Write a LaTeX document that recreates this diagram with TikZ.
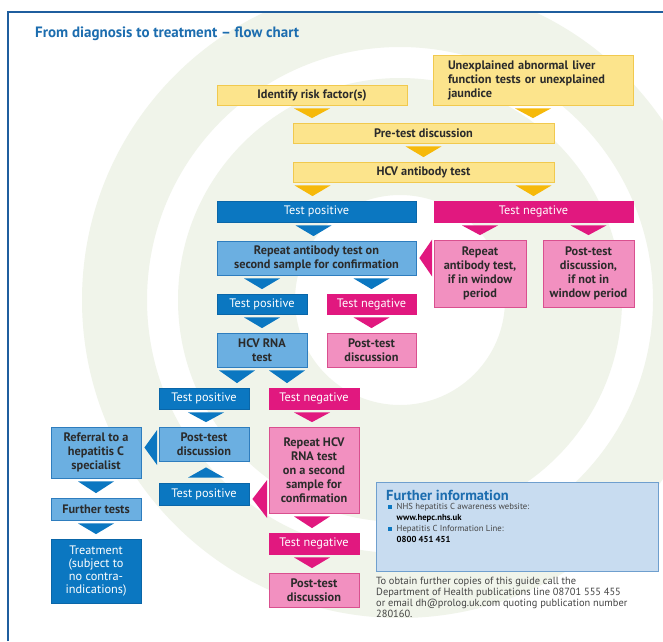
\documentclass[tikz,border=0pt]{standalone}
\usepackage{fontspec}
\setmainfont{PT Sans}
\usetikzlibrary{calc}
\definecolor{yfill}{HTML}{FCE48C}
\definecolor{yline}{HTML}{F1C94E}
\definecolor{ytri}{HTML}{F6B90A}
\definecolor{dblue}{HTML}{0B77C1}
\definecolor{dbline}{HTML}{0A66A8}
\definecolor{lblue}{HTML}{6BAFE1}
\definecolor{lbline}{HTML}{2E7DBE}
\definecolor{mag}{HTML}{E1187F}
\definecolor{pink}{HTML}{F290C0}
\definecolor{pkline}{HTML}{D9508F}
\definecolor{infofill}{HTML}{C8DCF0}
\definecolor{infoline}{HTML}{6F9FCE}
\definecolor{titleblue}{HTML}{1C6DAF}
\definecolor{frameblue}{HTML}{1F5E9E}
\definecolor{bgring}{HTML}{F0F4EA}
\definecolor{darktext}{HTML}{2B2B2B}
\definecolor{greytext}{HTML}{444444}
% down-pointing triangle between two named nodes
\newcommand\dtri[4]{\fill[#1] let \p1=(#2), \p2=(#3.south), \p3=(#4.north) in
  (\x1-18pt,\y2-3pt) -- (\x1+18pt,\y2-3pt) -- (\x1,\y3+4.5pt) -- cycle;}
% up-pointing triangle: from lower node #3 to upper node #4
\newcommand\utri[4]{\fill[#1] let \p1=(#2), \p2=(#3.north), \p3=(#4.south) in
  (\x1-18pt,\y2+5pt) -- (\x1+18pt,\y2+5pt) -- (\x1,\y3-6pt) -- cycle;}
% left-pointing triangle: from right node #4 to left node #3, y from #2, half height #5
\newcommand\ltri[5]{\fill[#1] let \p1=(#2), \p2=(#3.east), \p3=(#4.west) in
  (\x3-1.5pt,\y1+#5pt) -- (\x3-1.5pt,\y1-#5pt) -- (\x2+3pt,\y1) -- cycle;}
\begin{document}
\begin{tikzpicture}[x=1pt,y=-1pt,
  wh/.style 2 args={minimum width=#1, minimum height=#2},
  box/.style={draw, line width=0.8pt, inner sep=1pt, align=center, anchor=center,
    font=\fontsize{12.3}{14}\selectfont},
  ybox/.style={box, fill=yfill, draw=yline, text=darktext, font=\fontsize{12.3}{14}\selectfont\bfseries},
  dbox/.style={box, fill=dblue, draw=dbline, text=white},
  lbox/.style={box, fill=lblue, draw=lbline, text=darktext, font=\fontsize{12.3}{14}\selectfont\bfseries},
  mbox/.style={box, fill=mag, draw=mag, text=white},
  pbox/.style={box, fill=pink, draw=pkline, text=darktext, font=\fontsize{12.3}{14}\selectfont\bfseries},
  ytr/.style={ytri}, btr/.style={dblue}, mtr/.style={mag}]
\useasboundingbox (0,0) rectangle (663,641);
\fill[white] (0,0) rectangle (663,641);
% background logo rings
\begin{scope}
  \clip (8,12) rectangle (663,641);
  \fill[bgring, even odd rule] (400,300) circle (318pt) (400,300) circle (253pt);
  \fill[bgring, even odd rule] (400,300) circle (222pt) (400,300) circle (105pt);
\end{scope}
% frame
\draw[frameblue, line width=1.4pt] (8,641) -- (8,12) -- (663,12);
% title
\node[anchor=base west, inner sep=0pt, text=titleblue, font=\fontsize{15}{17}\selectfont\bfseries] (title) at (35,37.5) {From diagnosis to treatment – flow chart};

% nodes
\node[ybox, wh={200}{50}, align=left, text width=170pt, inner xsep=15pt] (unexpl) at (533,80) {Unexplained abnormal liver\\function tests or unexplained\\jaundice};
\node[ybox, wh={190}{20}] (risk) at (312,95) {Identify risk factor(s)};
\node[ybox, wh={261}{20}] (pre) at (423.5,133) {Pre-test discussion};
\node[ybox, wh={261}{20}] (hcv) at (423.5,172) {HCV antibody test};
\node[dbox, wh={199}{21}] (tpos1) at (316.5,211.5) {Test positive};
\node[mbox, wh={199}{21}] (tneg1) at (533.5,211.5) {Test negative};
\node[lbox, wh={199}{34}] (rep1) at (316.5,258) {Repeat antibody test on\\second sample for confirmation};
\node[pbox, wh={92}{67}] (repwin) at (480,273.5) {Repeat\\antibody test,\\if in window\\period};
\node[pbox, wh={91}{67}] (postwin) at (588.5,273.5) {Post-test\\discussion,\\if not in\\window period};
\node[dbox, wh={90}{20}] (tpos2) at (262,304) {Test positive};
\node[mbox, wh={89}{20}] (tneg2) at (371.5,304) {Test negative};
\node[lbox, wh={90}{34}] (rna) at (262,350) {HCV RNA\\test};
\node[pbox, wh={89}{34}] (post2) at (371.5,350) {Post-test\\discussion};
\node[dbox, wh={90}{21}] (tpos3) at (204,398.5) {Test positive};
\node[mbox, wh={90}{21}] (tneg3) at (314,398.5) {Test negative};
\node[lbox, wh={90}{51}] (referral) at (96,452.5) {Referral to a\\hepatitis C\\specialist};
\node[lbox, wh={90}{34}] (post3) at (204,444) {Post-test\\discussion};
\node[dbox, wh={90}{22}] (tpos4) at (204,494) {Test positive};
\node[pbox, wh={90}{86}] (reprna) at (314,470) {Repeat HCV\\RNA test\\on a second\\sample for\\confirmation};
\node[lbox, wh={90}{22}] (further) at (96,509) {Further tests};
\node[dbox, wh={90}{64}, font=\fontsize{12.3}{13}\selectfont] (treat) at (96,571) {Treatment\\(subject to\\no contra-\\indications)};
\node[mbox, wh={90}{21}] (tneg4) at (314,543.5) {Test negative};
\node[pbox, wh={90}{34}] (post4) at (314,590) {Post-test\\discussion};

% connectors (triangles)
\dtri{ytr}{risk.south}{risk}{pre}
\dtri{ytr}{unexpl.south}{unexpl}{pre}
\dtri{ytr}{pre.south}{pre}{hcv}
\dtri{ytr}{$(tpos1.north)+(-4,0)$}{hcv}{tpos1}
\dtri{ytr}{tneg1.north}{hcv}{tneg1}
\dtri{btr}{$(tpos1.south)+(-3,0)$}{tpos1}{rep1}
\dtri{mtr}{repwin.north}{tneg1}{repwin}
\dtri{mtr}{postwin.north}{tneg1}{postwin}
\ltri{mtr}{rep1.east}{rep1}{repwin}{18.5}
\dtri{btr}{tpos2.north}{rep1}{tpos2}
\dtri{btr}{tneg2.north}{rep1}{tneg2}
\dtri{btr}{tpos2.south}{tpos2}{rna}
\dtri{mtr}{tneg2.south}{tneg2}{post2}
\dtri{btr}{$(rna.south)+(-25,0)$}{rna}{tpos3}
\dtri{btr}{$(rna.south)+(25,0)$}{rna}{tneg3}
\dtri{btr}{$(post3.north)+(2,0)$}{tpos3}{post3}
\dtri{mtr}{$(reprna.north)+(-2,0)$}{tneg3}{reprna}
\ltri{btr}{$(post3.west)+(0,3.5)$}{referral}{post3}{17.5}
\utri{btr}{$(tpos4.north)+(2,0)$}{tpos4}{post3}
\ltri{mtr}{$(tpos4.east)+(0,5)$}{tpos4}{reprna}{19}
\dtri{btr}{referral.south}{referral}{further}
\dtri{btr}{further.south}{further}{treat}
\dtri{mtr}{$(reprna.south)+(-2,0)$}{reprna}{tneg4}
\dtri{mtr}{$(tneg4.south)+(-2,0)$}{tneg4}{post4}

% further information box
\node[draw=infoline, fill=infofill, line width=1pt, anchor=north west, wh={282}{89}, inner sep=0pt] (info) at (376,482) {};
\node[anchor=base west, inner sep=0pt, text=titleblue, font=\fontsize{14.5}{16}\selectfont\bfseries] (infotitle) at (386,500) {Further information};
\node[anchor=north west, inner sep=0pt, align=left, text=greytext, font=\fontsize{8.7}{11}\selectfont] (infolist) at (388,503)
{\textcolor{dblue}{\rule[0.6pt]{3.5pt}{3.5pt}}\hspace{5pt}NHS hepatitis C awareness website:\\
\hspace{8.5pt}\textcolor{black}{\bfseries www.hepc.nhs.uk}\\
\textcolor{dblue}{\rule[0.6pt]{3.5pt}{3.5pt}}\hspace{5pt}Hepatitis C Information Line:\\
\hspace{8.5pt}\textcolor{black}{\bfseries 0800 451 451}};
\node[anchor=north west, inner sep=0pt, align=left, text=greytext, font=\fontsize{10.4}{11}\selectfont] (foot) at (376,577)
{To obtain further copies of this guide call the\\
Department of Health publications line 08701 555 455\\
or email dh@prolog.uk.com quoting publication number\\
280160.};
\end{tikzpicture}
\end{document}
